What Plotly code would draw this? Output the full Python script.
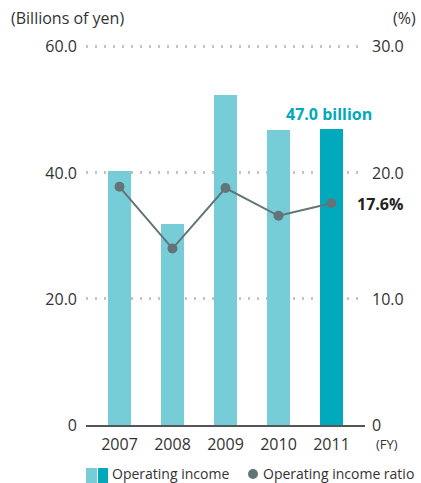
import plotly.graph_objects as go

years = ["2007", "2008", "2009", "2010", "2011"]
operating_income = [40.3, 31.9, 52.4, 46.8, 47.0]          # billions of yen
operating_income_ratio = [18.9, 14.0, 18.8, 16.6, 17.6]    # %
left_ticks = [0, 20, 40, 60]
left_tick_text = ["0", "20.0", "40.0", "60.0"]
right_ticks = [0, 10, 20, 30]
right_tick_text = ["0", "10.0", "20.0", "30.0"]

LIGHT = "#76CDD8"
DARK = "#00A9BC"
GREY_LINE = "#627478"
TEXT = "#333333"
FONT = "Open Sans"

W, H = 421, 483
ML, MR, MT, MB = 86, 56, 45, 58
PW, PH = W - ML - MR, H - MT - MB

# a little headroom so the 60 / 30 grid line is drawn inside the plot area
Y_TOP = 60.3
Y2_TOP = Y_TOP / 2


def px_x(x):
    return (x - ML) / PW


def px_y(y):
    return (H - MB - y) / PH


bar_colors = [LIGHT] * (len(years) - 1) + [DARK]

fig = go.Figure()
fig.add_trace(go.Bar(
    x=years, y=operating_income, marker=dict(color=bar_colors, line=dict(width=0)),
    width=0.434, yaxis="y", showlegend=False, hoverinfo="skip",
))
fig.add_trace(go.Scatter(
    x=years, y=operating_income_ratio, yaxis="y2", mode="lines+markers",
    line=dict(color=GREY_LINE, width=2), marker=dict(color=GREY_LINE, size=10),
    showlegend=False, hoverinfo="skip",
))

fig.update_layout(
    width=W, height=H,
    margin=dict(l=ML, r=MR, t=MT, b=MB),
    paper_bgcolor="white", plot_bgcolor="white",
    font=dict(family=FONT, color=TEXT, size=16),
    bargap=0,
    xaxis=dict(
        type="category", range=[-0.632, 4.632], showgrid=False,
        showline=True, linecolor="#555555", linewidth=1.5,
        ticks="", tickfont=dict(size=16, color=TEXT), ticklabelstandoff=4,
        zeroline=False, fixedrange=True,
    ),
    yaxis=dict(
        range=[0, Y_TOP], tickvals=left_ticks, ticktext=left_tick_text,
        showgrid=True, gridcolor="#C4C4C4", griddash="2px,7px", gridwidth=2.5,
        zeroline=False, showline=False, ticks="",
        tickfont=dict(size=16, color=TEXT), ticklabelstandoff=8,
    ),
    yaxis2=dict(
        range=[0, Y2_TOP], tickvals=right_ticks, ticktext=right_tick_text,
        overlaying="y", side="right", showgrid=False, zeroline=False,
        showline=False, ticks="", tickfont=dict(size=16, color=TEXT),
        ticklabelstandoff=6,
    ),
)

annotations = [
    dict(text="(Billions of yen)", x=9, y=18, xanchor="left"),
    dict(text="(%)", x=418, y=18, xanchor="right"),
    dict(text="(FY)", x=374, y=444, xanchor="left", size=13),
    dict(text="<b>47.0 billion</b>", x=329, y=114, xanchor="center", color=DARK),
    dict(text="<b>17.6%</b>", x=355, y=204, xanchor="left", color="#222222"),
    dict(text="Operating income", x=110, y=473, xanchor="left", size=14),
    dict(text="Operating income ratio", x=261, y=473, xanchor="left", size=14),
]
for a in annotations:
    fig.add_annotation(
        text=a["text"], showarrow=False,
        xref="paper", yref="paper",
        x=px_x(a["x"]), y=px_y(a["y"]),
        xanchor=a["xanchor"], yanchor="middle",
        font=dict(family=FONT, size=a.get("size", 16), color=a.get("color", TEXT)),
    )


# Legend swatches
def px_rect(x0, y0, x1, y1, color):
    fig.add_shape(type="rect", xref="paper", yref="paper",
                  x0=px_x(x0), x1=px_x(x1), y0=px_y(y1), y1=px_y(y0),
                  fillcolor=color, line=dict(width=0))


px_rect(86, 468, 97, 483, LIGHT)
px_rect(98, 468, 108, 483, DARK)
fig.add_shape(type="circle", xref="paper", yref="paper",
              x0=px_x(248), x1=px_x(258), y0=px_y(479), y1=px_y(469),
              fillcolor=GREY_LINE, line=dict(width=0))

fig.write_html("out.html")
